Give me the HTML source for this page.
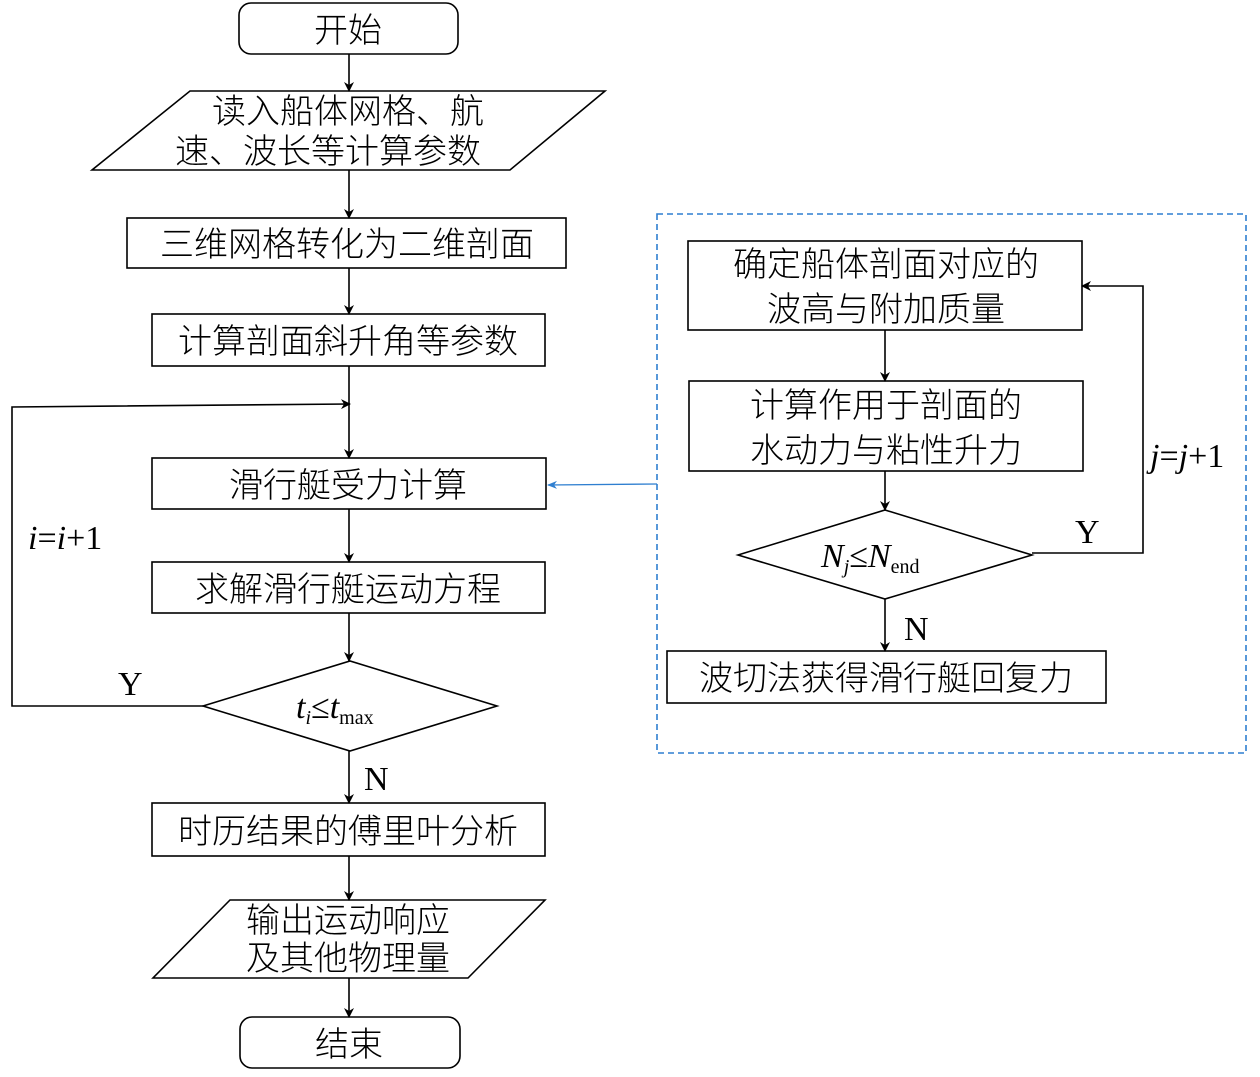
<!DOCTYPE html>
<html><head><meta charset="utf-8"><style>
body{margin:0;background:#fff}
svg text{font-family:"Liberation Serif","Noto Sans CJK SC",serif;fill:#000}
.c{font-family:"Noto Sans CJK SC","WenQuanYi Zen Hei",sans-serif;font-weight:300;font-size:34px}
</style></head><body>
<svg width="1260" height="1072" viewBox="0 0 1260 1072" xmlns="http://www.w3.org/2000/svg">
<defs>
<marker id="a" markerWidth="10" markerHeight="10" refX="9" refY="5" orient="auto" markerUnits="userSpaceOnUse"><path d="M0,0 L10,5 L0,10 L3,5 z" fill="#000"/></marker>
<marker id="b" markerWidth="10" markerHeight="10" refX="9" refY="5" orient="auto" markerUnits="userSpaceOnUse"><path d="M0,1 L10,5 L0,9 L3,5 z" fill="#2f7fd0"/></marker>
</defs>
<g fill="none" stroke="#000" stroke-width="1.6">
<rect x="239" y="3" width="219" height="51" rx="12"/>
<polygon points="190,91 605,91 510,170 92,170"/>
<rect x="127" y="218" width="439" height="50"/>
<rect x="152" y="314" width="393" height="52"/>
<rect x="152" y="458" width="394" height="51"/>
<rect x="152" y="562" width="393" height="51"/>
<polygon points="203,706 350,661 497,706 350,751"/>
<rect x="152" y="803" width="393" height="53"/>
<polygon points="230,900 545,900 468,978 153,978"/>
<rect x="240" y="1017" width="220" height="51" rx="12"/>
<rect x="688" y="241" width="394" height="89"/>
<rect x="689" y="381" width="394" height="90"/>
<polygon points="738,555 885,510 1032,555 885,599"/>
<rect x="667" y="651" width="439" height="52"/>
<line x1="349" y1="54" x2="349" y2="91" marker-end="url(#a)"/>
<line x1="349" y1="170" x2="349" y2="218" marker-end="url(#a)"/>
<line x1="349" y1="268" x2="349" y2="314" marker-end="url(#a)"/>
<line x1="349" y1="366" x2="349" y2="458" marker-end="url(#a)"/>
<line x1="349" y1="509" x2="349" y2="562" marker-end="url(#a)"/>
<line x1="349" y1="613" x2="349" y2="661" marker-end="url(#a)"/>
<line x1="349" y1="751" x2="349" y2="803" marker-end="url(#a)"/>
<line x1="349" y1="856" x2="349" y2="900" marker-end="url(#a)"/>
<line x1="349" y1="978" x2="349" y2="1017" marker-end="url(#a)"/>
<polyline points="203,706 12,706 12,407 350,404" marker-end="url(#a)"/>
<line x1="885" y1="330" x2="885" y2="381" marker-end="url(#a)"/>
<line x1="885" y1="471" x2="885" y2="510" marker-end="url(#a)"/>
<line x1="885" y1="599" x2="885" y2="651" marker-end="url(#a)"/>
<polyline points="1032,553 1143,553 1143,286 1082,286" marker-end="url(#a)"/>
</g>
<rect x="657" y="214" width="589" height="539" fill="none" stroke="#2f7fd0" stroke-width="1.6" stroke-dasharray="6,4"/>
<line x1="657" y1="484" x2="548" y2="485" stroke="#2f7fd0" stroke-width="1.3" marker-end="url(#b)"/>
<g class="c" text-anchor="middle">
<text x="348" y="42">开始</text>
<text x="348" y="123">读入船体网格、航</text>
<text x="328" y="163">速、波长等计算参数</text>
<text x="347" y="256">三维网格转化为二维剖面</text>
<text x="348" y="353">计算剖面斜升角等参数</text>
<text x="348" y="497">滑行艇受力计算</text>
<text x="348" y="601">求解滑行艇运动方程</text>
<text x="348" y="843">时历结果的傅里叶分析</text>
<text x="348" y="932">输出运动响应</text>
<text x="348" y="970">及其他物理量</text>
<text x="349" y="1056">结束</text>
<text x="886" y="276">确定船体剖面对应的</text>
<text x="886" y="321">波高与附加质量</text>
<text x="886" y="417">计算作用于剖面的</text>
<text x="886" y="462">水动力与粘性升力</text>
<text x="886" y="690">波切法获得滑行艇回复力</text>
</g>
<g font-size="34">
<text x="296" y="718" font-style="italic">t<tspan font-size="20" dy="6">i</tspan><tspan dy="-6" font-style="normal">≤</tspan>t<tspan font-size="20" dy="6" font-style="normal">max</tspan></text>
<text x="821" y="567" font-style="italic">N<tspan font-size="20" dy="6">j</tspan><tspan dy="-6" font-style="normal">≤</tspan>N<tspan font-size="20" dy="6" font-style="normal">end</tspan></text>
<text x="118" y="695">Y</text>
<text x="364" y="790">N</text>
<text x="28" y="549"><tspan font-style="italic">i</tspan>=<tspan font-style="italic">i</tspan>+1</text>
<text x="1075" y="543">Y</text>
<text x="904" y="640">N</text>
<text x="1150" y="467"><tspan font-style="italic">j</tspan>=<tspan font-style="italic">j</tspan>+1</text>
</g>
</svg>
</body></html>
